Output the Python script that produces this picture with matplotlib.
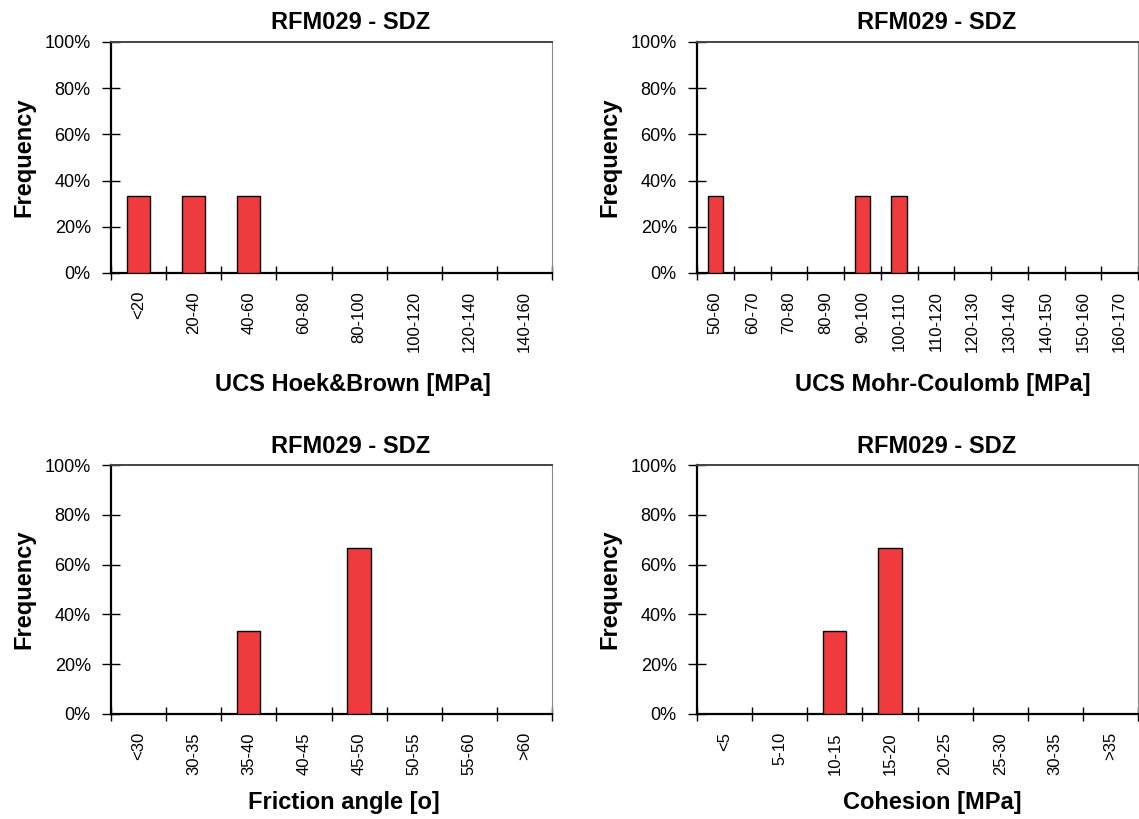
import numpy as np
import matplotlib.pyplot as plt
from matplotlib.ticker import FuncFormatter

plt.rcParams['font.family'] = ['Liberation Sans', 'DejaVu Sans']

title = 'RFM029 - SDZ'

hb_bins = ['<20', '20-40', '40-60', '60-80', '80-100', '100-120', '120-140', '140-160']
hb_freq = [1/3, 1/3, 1/3, 0, 0, 0, 0, 0]

mc_bins = ['50-60', '60-70', '70-80', '80-90', '90-100', '100-110', '110-120',
           '120-130', '130-140', '140-150', '150-160', '160-170']
mc_freq = [1/3, 0, 0, 0, 1/3, 1/3, 0, 0, 0, 0, 0, 0]

fr_bins = ['<30', '30-35', '35-40', '40-45', '45-50', '50-55', '55-60', '>60']
fr_freq = [0, 0, 1/3, 0, 2/3, 0, 0, 0]

co_bins = ['<5', '5-10', '10-15', '15-20', '20-25', '25-30', '30-35', '>35']
co_freq = [0, 0, 1/3, 2/3, 0, 0, 0, 0]

W, H = 1139, 819
fig = plt.figure(figsize=(W/100, H/100), dpi=100)

def box(x0, x1, ytop, ybot):
    return [x0/W, 1-ybot/H, (x1-x0)/W, (ybot-ytop)/H]

# rect, bins, values, x label, labelpad, title x-shift, label x-shift (px)
panels = [
    (box(111, 552, 42, 273), hb_bins, hb_freq, 'UCS Hoek&Brown [MPa]', 15, 19, 21),
    (box(697, 1138, 42, 273), mc_bins, mc_freq, 'UCS Mohr-Coulomb [MPa]', 15, 19, 25),
    (box(111, 552, 465, 714), fr_bins, fr_freq, 'Friction angle [o]', 12, 19, 12),
    (box(697, 1138, 465, 714), co_bins, co_freq, 'Cohesion [MPa]', 12, 19, 15),
]

for rect, bins, freq, xlabel, lp, tdx, ldx in panels:
    ax = fig.add_axes(rect)
    n = len(bins)
    x = np.arange(n)
    ax.bar(x, freq, width=0.42, color='#ef3b3d', edgecolor='black', linewidth=1.0, zorder=3)
    ax.set_xlim(-0.5, n - 0.5)
    ax.set_ylim(0, 1)
    ax.set_yticks(np.arange(0, 1.01, 0.2))
    ax.yaxis.set_major_formatter(FuncFormatter(lambda v, p: '%d%%' % round(v*100)))
    ax.set_xticks(np.arange(-0.5, n, 1.0))
    ax.set_xticklabels([])
    ax.set_xticks(x, minor=True)
    ax.set_xticklabels(bins, minor=True, rotation=90, fontsize=12)
    ax.tick_params(axis='x', which='minor', length=0, pad=13)
    ax.tick_params(axis='x', which='major', direction='inout', length=10, width=1)
    ax.tick_params(axis='y', direction='inout', length=13, width=1, labelsize=13, pad=8)
    for s in ['left', 'bottom']:
        ax.spines[s].set_linewidth(1.6)
        ax.spines[s].set_color('black')
    ax.spines['top'].set_color('#444444')
    ax.spines['top'].set_linewidth(1.4)
    ax.spines['right'].set_color('#888888')
    wpx = rect[2] * W
    t = ax.set_title(title, fontsize=17, fontweight='bold', pad=9)
    t.set_x(0.5 + tdx / wpx)
    ax.set_ylabel('Frequency', fontsize=17, fontweight='bold', labelpad=7)
    ax.set_xlabel(xlabel, fontsize=17, fontweight='bold', labelpad=lp)
    ax.xaxis.label.set_x(0.5 + ldx / wpx)

fig.savefig('out.png', dpi=100)
